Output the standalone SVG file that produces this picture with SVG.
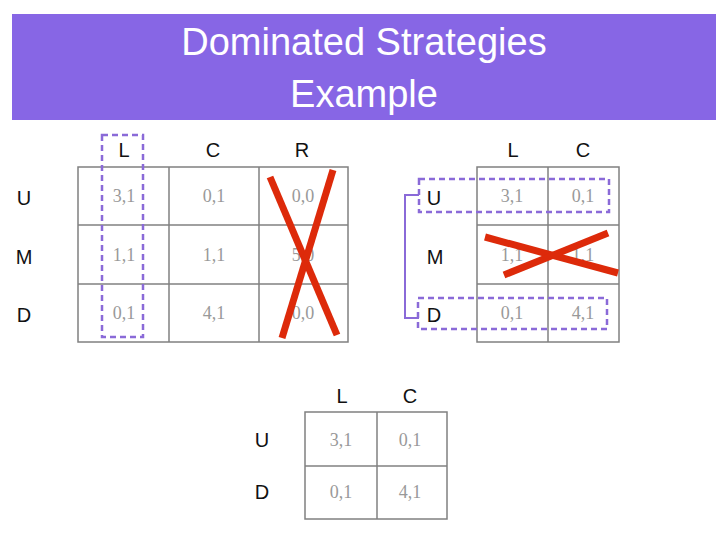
<svg xmlns="http://www.w3.org/2000/svg" width="728" height="546" viewBox="0 0 728 546">
<style>
.title{font-family:"Liberation Sans",Arial,sans-serif;font-size:38px;fill:#ffffff;text-anchor:middle}
.lab{font-family:"Liberation Sans",Arial,sans-serif;font-size:20px;fill:#111;text-anchor:middle}
.cell{font-family:"Liberation Serif","Times New Roman",serif;font-size:18px;fill:#999;text-anchor:middle}
.grid{fill:none;stroke:#808080;stroke-width:1.5}
.dash{fill:none;stroke:#8a6ad8;stroke-width:2.5;stroke-dasharray:6,4}
.brk{fill:none;stroke:#8a6ad8;stroke-width:2}
.x{stroke:#dd2a0a;stroke-width:7;stroke-linecap:butt}
</style>
<rect width="728" height="546" fill="#fff"/>
<g id="banner">
<rect x="12" y="14" width="704" height="106" fill="#8766e5"/>
<text class="title" x="364" y="55">Dominated Strategies</text>
<text class="title" x="364" y="107">Example</text>
</g>
<g id="table1">
<rect class="grid" x="78" y="167" width="270" height="175"/>
<line class="grid" x1="169" y1="167" x2="169" y2="342"/>
<line class="grid" x1="259" y1="167" x2="259" y2="342"/>
<line class="grid" x1="78" y1="225" x2="348" y2="225"/>
<line class="grid" x1="78" y1="284" x2="348" y2="284"/>
<text class="lab" x="124" y="157">L</text>
<text class="lab" x="213" y="157">C</text>
<text class="lab" x="302" y="157">R</text>
<text class="lab" x="24" y="205">U</text>
<text class="lab" x="24" y="264">M</text>
<text class="lab" x="24" y="322">D</text>
<text class="cell" x="124" y="202">3,1</text>
<text class="cell" x="214" y="202">0,1</text>
<text class="cell" x="303" y="202">0,0</text>
<text class="cell" x="124" y="261">1,1</text>
<text class="cell" x="214" y="261">1,1</text>
<text class="cell" x="303" y="261">5,0</text>
<text class="cell" x="124" y="319">0,1</text>
<text class="cell" x="214" y="319">4,1</text>
<text class="cell" x="303" y="319">0,0</text>
</g>
<g id="table2">
<rect class="grid" x="477" y="167" width="142" height="175"/>
<line class="grid" x1="548" y1="167" x2="548" y2="342"/>
<line class="grid" x1="477" y1="225" x2="619" y2="225"/>
<line class="grid" x1="477" y1="284" x2="619" y2="284"/>
<text class="lab" x="513" y="157">L</text>
<text class="lab" x="583" y="157">C</text>
<text class="lab" x="434" y="205">U</text>
<text class="lab" x="435" y="264">M</text>
<text class="lab" x="434" y="322">D</text>
<text class="cell" x="512" y="202">3,1</text>
<text class="cell" x="583" y="202">0,1</text>
<text class="cell" x="512" y="261">1,1</text>
<text class="cell" x="583" y="261">1,1</text>
<text class="cell" x="512" y="319">0,1</text>
<text class="cell" x="583" y="319">4,1</text>
</g>
<g id="table3">
<rect class="grid" x="305" y="412" width="142" height="107"/>
<line class="grid" x1="377" y1="412" x2="377" y2="519"/>
<line class="grid" x1="305" y1="466" x2="447" y2="466"/>
<text class="lab" x="342" y="403">L</text>
<text class="lab" x="410" y="403">C</text>
<text class="lab" x="262" y="447">U</text>
<text class="lab" x="262" y="499">D</text>
<text class="cell" x="341" y="446">3,1</text>
<text class="cell" x="410" y="446">0,1</text>
<text class="cell" x="341" y="498">0,1</text>
<text class="cell" x="410" y="498">4,1</text>
</g>
<g id="connectors">
<rect class="dash" x="102" y="135" width="41" height="202"/>
<rect class="dash" x="419" y="179" width="190" height="33"/>
<rect class="dash" x="418" y="298" width="189" height="31"/>
<path class="brk" d="M419,195 H405 V318 H419"/>
<line class="x" x1="270" y1="177" x2="337" y2="335"/>
<line class="x" x1="333" y1="170" x2="282" y2="338"/>
<line class="x" x1="485" y1="237" x2="618" y2="273"/>
<line class="x" x1="504" y1="275" x2="608" y2="233"/>
</g>
</svg>
